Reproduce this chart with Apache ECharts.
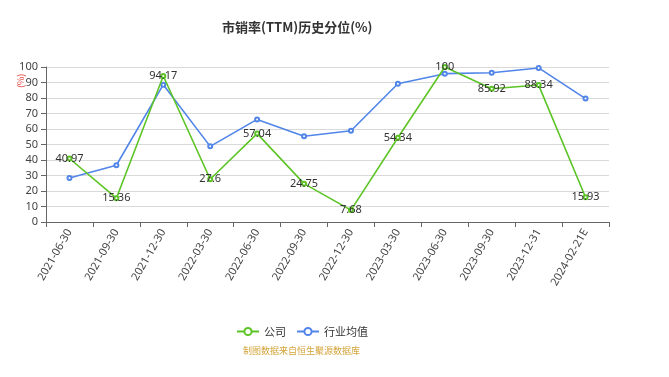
<!DOCTYPE html>
<html>
<head>
<meta charset="utf-8">
<script src="https://cdn.jsdelivr.net/npm/echarts@6/dist/echarts.min.js"></script>
<style>
  html, body { margin: 0; padding: 0; background: #fff; }
  #main { width: 669px; height: 377px; }
</style>
</head>
<body>
<div id="main"></div>
<script>
// 日期
let dates = ['2021-06-30', '2021-09-30', '2021-12-30', '2022-03-30', '2022-06-30', '2022-09-30',
    '2022-12-30', '2023-03-30', '2023-06-30', '2023-09-30', '2023-12-31', '2024-02-21E'];
// 公司
let companyVals = [40.97, 15.36, 94.17, 27.6, 57.04, 24.75, 7.68, 54.34, 100, 85.92, 88.34, 15.93];
// 行业均值
let industryVals = [28.4, 36.6, 88.6, 48.8, 66.2, 55.3, 58.9, 89.2, 95.7, 96.3, 99.4, 79.6];

let myChart = echarts.init(document.getElementById('main'));
let option = {
    backgroundColor: '#fff',
    title: {
        text: '市销率(TTM)历史分位(%)',
        left: 217,
        top: 16,
        textStyle: {
            color: '#333',
            fontSize: 13,
            fontWeight: 'bold',
            fontFamily: 'Noto Sans CJK SC'
        }
    },
    grid: {
        left: 46,
        right: 60,
        top: 67,
        bottom: 155
    },
    legend: {
        left: 231,
        top: 321,
        itemWidth: 22,
        itemHeight: 9,
        itemGap: 10,
        textStyle: {
            color: '#333',
            fontSize: 11,
            fontFamily: 'Noto Sans CJK SC'
        },
        data: ['公司', '行业均值']
    },
    graphic: [
        {
            // 数据来源
            type: 'text',
            left: 243,
            top: 346,
            style: {
                text: '制图数据来自恒生聚源数据库',
                fill: '#d4a43a',
                font: '9px "Noto Sans CJK SC"'
            }
        },
        {
            // 单位
            type: 'text',
            x: 16,
            y: 88,
            rotation: Math.PI / 2,
            style: {
                text: '(%)',
                fill: '#e8463c',
                font: '9px "Noto Sans CJK SC"'
            }
        }
    ],
    xAxis: {
        type: 'category',
        data: dates,
        boundaryGap: true,
        axisLine: { lineStyle: { color: '#666' } },
        axisTick: { show: true, lineStyle: { color: '#666' } },
        axisLabel: {
            rotate: 60,
            color: '#444',
            fontSize: 11,
            interval: 0,
            fontFamily: 'Noto Sans'
        }
    },
    yAxis: {
        type: 'value',
        min: 0,
        max: 100,
        interval: 10,
        axisLine: { show: true, lineStyle: { color: '#666' } },
        axisTick: { show: true, lineStyle: { color: '#666' } },
        axisLabel: { color: '#444', fontSize: 11, fontFamily: 'Noto Sans' },
        splitLine: { lineStyle: { color: '#d9d9d9' } }
    },
    series: [
        {
            name: '公司',
            type: 'line',
            data: companyVals,
            symbol: 'emptyCircle',
            symbolSize: 4,
            color: '#5cc425',
            lineStyle: { width: 1.6 },
            label: {
                show: true,
                position: 'inside',
                color: '#333',
                fontSize: 11,
                fontFamily: 'Noto Sans'
            },
            z: 3
        },
        {
            name: '行业均值',
            type: 'line',
            data: industryVals,
            symbol: 'emptyCircle',
            symbolSize: 4,
            color: '#5185e8',
            lineStyle: { width: 1.6 },
            z: 2
        }
    ]
};
myChart.setOption(option);
</script>
</body>
</html>
